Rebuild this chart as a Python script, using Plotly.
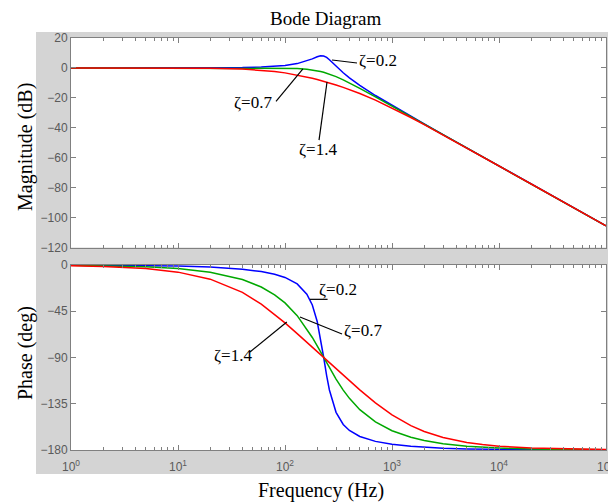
import plotly.graph_objects as go

# ---------------- data ----------------
freq_hz = [1, 2, 5, 10, 20, 40, 60, 80, 100, 130, 160, 180, 200, 215, 230, 245,
           260, 300, 350, 400, 500, 700, 1000, 1500, 2000, 3000, 5000, 7000,
           10000, 20000, 50000, 100000]

mag_z02 = [0, 0, 0, 0.01, 0.06, 0.24, 0.56, 1.01, 1.62, 2.89, 4.64, 6.05, 7.44,
           8.08, 7.96, 7.00, 5.50, 1.17, -3.23, -6.61, -11.65, -18.44, -25.10,
           -32.38, -37.47, -44.57, -53.47, -59.33, -65.53, -77.57, -93.49, -105.53]
mag_z07 = [0, 0, 0, 0, 0, 0, -0.01, -0.04, -0.12, -0.37, -0.85, -1.31, -1.88,
           -2.38, -2.92, -3.51, -4.12, -5.83, -7.97, -10.01, -13.64, -19.37,
           -25.53, -32.57, -37.57, -44.61, -53.49, -59.35, -65.54, -77.57, -93.49,
           -105.53]
mag_z14 = [0, 0, -0.01, -0.05, -0.19, -0.71, -1.47, -2.36, -3.30, -4.72, -6.09,
           -6.95, -7.77, -8.37, -8.94, -9.50, -10.04, -11.41, -12.99, -14.44,
           -17.07, -21.49, -26.71, -33.14, -37.90, -44.76, -53.54, -59.40, -65.54,
           -77.58, -93.49, -105.53]

phase_z02 = [-0.1, -0.2, -0.5, -1.0, -2.01, -4.10, -6.39, -9.00, -12.10, -18.38,
             -28.33, -38.93, -54.97, -71.35, -90, -107.54, -121.57, -143.35,
             -155.17, -161.04, -166.86, -171.62, -174.45, -176.41, -177.33,
             -178.23, -178.94, -179.25, -179.47, -179.74, -179.89, -179.95]
phase_z07 = [-0.35, -0.70, -1.74, -3.49, -6.99, -14.09, -21.40, -28.99, -36.89,
             -49.30, -62.08, -70.52, -78.67, -84.49, -90, -95.16, -99.96, -111.01,
             -121.70, -129.74, -140.76, -152.72, -161.22, -167.60, -170.73,
             -173.84, -176.31, -177.36, -178.15, -179.08, -179.63, -179.82]
phase_z14 = [-0.70, -1.39, -3.49, -6.95, -13.78, -26.66, -38.09, -47.93, -56.32,
             -66.73, -75.16, -79.97, -84.28, -87.24, -90, -92.59, -95.02, -100.87,
             -107.16, -112.58, -121.47, -134.12, -145.79, -156.27, -161.93,
             -167.81, -172.65, -174.74, -176.31, -178.16, -179.26, -179.63]

series_names = ["ζ=0.2", "ζ=0.7", "ζ=1.4"]
series_colors = ["#0000ff", "#00a800", "#ff0000"]

x_tickvals = [1, 10, 100, 1000, 10000, 100000]
x_ticktext = ["10<sup>0</sup>", "10<sup>1</sup>", "10<sup>2</sup>",
              "10<sup>3</sup>", "10<sup>4</sup>", "10<sup>5</sup>"]
x_minor_vals = [k * 10 ** d for d in range(5) for k in range(2, 10)]
mag_tickvals = [20, 0, -20, -40, -60, -80, -100, -120]
phase_tickvals = [0, -45, -90, -135, -180]

# ---------------- layout geometry ----------------
# the page body adds an 8px offset, so the figure is 8px smaller on each side
OFF = 8
W, H = 616 - OFF, 503 - OFF
PLOT_L, PLOT_R, PLOT_T, PLOT_B = 71, 606, 38, 450   # in window pixels
L, T = PLOT_L - OFF, PLOT_T - OFF
R = W - (PLOT_R - OFF)
B = H - (PLOT_B - OFF)
PW, PH = W - L - R, H - T - B


def px(x):
    return (x - PLOT_L) / PW


def py(y):
    return (PLOT_B - y) / PH


fig = go.Figure()

mags = [mag_z02, mag_z07, mag_z14]
phases = [phase_z02, phase_z07, phase_z14]
for name, col, m in zip(series_names, series_colors, mags):
    fig.add_trace(go.Scatter(x=freq_hz, y=m, mode="lines", name=name,
                             line=dict(color=col, width=1.5),
                             xaxis="x", yaxis="y", showlegend=False))
for name, col, p in zip(series_names, series_colors, phases):
    fig.add_trace(go.Scatter(x=freq_hz, y=p, mode="lines", name=name,
                             line=dict(color=col, width=1.5),
                             xaxis="x2", yaxis="y2", showlegend=False))

axis_col = "#808080"
tick_font = dict(family="Liberation Sans, Arial, sans-serif", size=12, color="#5a5a5a")
common = dict(showline=True, linecolor=axis_col, linewidth=1, mirror="ticks",
              ticks="inside", ticklen=5, tickcolor=axis_col, showgrid=False,
              zeroline=False, tickfont=tick_font, automargin=False)
xcommon = dict(common, type="log", range=[0, 5], tickmode="array",
               tickvals=x_tickvals, ticktext=x_ticktext,
               minor=dict(tickmode="array", tickvals=x_minor_vals, ticks="inside",
                          ticklen=3, tickcolor=axis_col, showgrid=False))

top_lo = py(247.5)
bot_hi = py(265)

fig.update_layout(
    width=W, height=H,
    margin=dict(l=L, r=R, t=T, b=B, pad=0),
    paper_bgcolor="white", plot_bgcolor="white",
    xaxis=dict(xcommon, domain=[0, 1], anchor="y", showticklabels=False),
    yaxis=dict(common, domain=[top_lo, 1], anchor="x", range=[-120, 20],
               tickmode="array", tickvals=mag_tickvals),
    xaxis2=dict(xcommon, domain=[0, 1], anchor="y2", showticklabels=True,
                ticklabelstandoff=6),
    yaxis2=dict(common, domain=[0, bot_hi], anchor="x2", range=[-180, 0],
                tickmode="array", tickvals=phase_tickvals),
)

shapes = [
    dict(type="rect", xref="paper", yref="paper", x0=px(36), x1=px(640),
         y0=py(474), y1=py(32), fillcolor="#d4d4d4", line=dict(width=0), layer="below"),
    dict(type="rect", xref="x domain", yref="y domain", x0=0, x1=1, y0=0, y1=1,
         fillcolor="white", line=dict(width=0), layer="below"),
    dict(type="rect", xref="x2 domain", yref="y2 domain", x0=0, x1=1, y0=0, y1=1,
         fillcolor="white", line=dict(width=0), layer="below"),
]

# pointer lines (frequency in Hz, value in dB / deg)
pointer_lines = [
    ("x", "y", 275, 5.3, 471, 3.3),
    ("x", "y", 147, -0.7, 82.4, -22.3),
    ("x", "y", 247, -9.4, 208, -48.2),
    ("x2", "y2", 171, -33.4, 250, -33.4),
    ("x2", "y2", 138, -50.6, 341, -67.1),
    ("x2", "y2", 104, -55.5, 47.1, -84.6),
]
for xr, yr, x0, y0, x1, y1 in pointer_lines:
    shapes.append(dict(type="line", xref=xr, yref=yr, x0=x0, y0=y0, x1=x1, y1=y1,
                       line=dict(color="black", width=1.2)))
fig.update_layout(shapes=shapes)

label_font = dict(family="Liberation Serif, Times New Roman, serif", size=17, color="black")
# (axis, log10 x, y, text)
zeta_labels = [
    ("x", "y", 2.869, 5.3, series_names[0]),
    ("x", "y", 1.701, -22.8, series_names[1]),
    ("x", "y", 2.308, -54.2, series_names[2]),
    ("x2", "y2", 2.495, -23.4, series_names[0]),
    ("x2", "y2", 2.729, -64.2, series_names[1]),
    ("x2", "y2", 1.514, -87.6, series_names[2]),
]
annotations = []
for xr, yr, x, y, txt in zeta_labels:
    annotations.append(dict(xref=xr, yref=yr, x=x, y=y, text=txt, showarrow=False,
                            xanchor="center", yanchor="middle", font=label_font))

title_font = dict(family="Liberation Serif, Times New Roman, serif", size=20, color="black")
annotations += [
    dict(xref="paper", yref="paper", x=px(326), y=py(19), text="Bode Diagram",
         showarrow=False, xanchor="center", yanchor="middle",
         font=dict(title_font, size=19)),
    dict(xref="paper", yref="paper", x=px(321), y=py(490), text="Frequency (Hz)",
         showarrow=False, xanchor="center", yanchor="middle", font=title_font),
    dict(xref="paper", yref="paper", x=px(25), y=py(147), text="Magnitude (dB)",
         textangle=-90, showarrow=False, xanchor="center", yanchor="middle", font=title_font),
    dict(xref="paper", yref="paper", x=px(25), y=py(353), text="Phase (deg)",
         textangle=-90, showarrow=False, xanchor="center", yanchor="middle", font=title_font),
]
fig.update_layout(annotations=annotations)

fig.write_html("out.html")
